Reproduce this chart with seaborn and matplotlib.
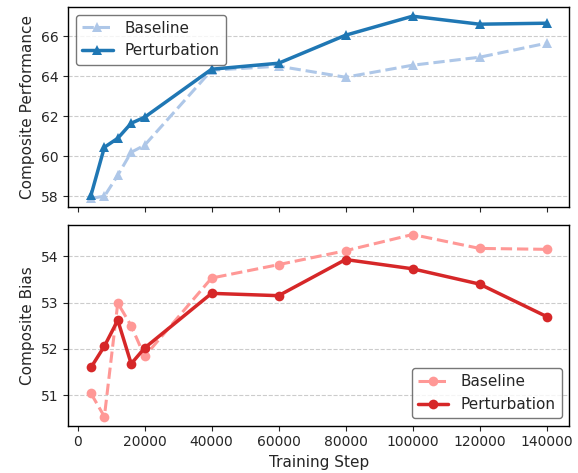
import pandas as pd
import matplotlib.pyplot as plt
import seaborn as sns

# data
steps = [4000, 8000, 12000, 16000, 20000, 40000, 60000, 80000, 100000, 120000, 140000]
perf_baseline = [57.9, 58.0, 59.05, 60.2, 60.55, 64.3, 64.5, 63.95, 64.55, 64.95, 65.65]
perf_perturb = [58.05, 60.45, 60.9, 61.65, 61.95, 64.35, 64.65, 66.05, 67.0, 66.6, 66.65]
bias_baseline = [51.04, 50.54, 52.99, 52.5, 51.84, 53.53, 53.82, 54.12, 54.47, 54.17, 54.15]
bias_perturb = [51.6, 52.06, 52.62, 51.68, 52.02, 53.2, 53.15, 53.93, 53.73, 53.4, 52.7]

perf = pd.DataFrame({"step": steps, "Baseline": perf_baseline, "Perturbation": perf_perturb})
bias = pd.DataFrame({"step": steps, "Baseline": bias_baseline, "Perturbation": bias_perturb})

sns.set_style("ticks")
plt.rcParams["font.family"] = ["DejaVu Sans"]

fig, (ax1, ax2) = plt.subplots(2, 1, figsize=(5.78, 4.73), dpi=100, sharex=True)

# top panel: performance
sns.lineplot(data=perf, x="step", y="Baseline", ax=ax1, color="#aec7e8", linestyle="--",
             marker="^", markersize=7, markeredgewidth=0, linewidth=2.2, label="Baseline")
sns.lineplot(data=perf, x="step", y="Perturbation", ax=ax1, color="#1f77b4", linestyle="-",
             marker="^", markersize=7, markeredgewidth=0, linewidth=2.5, label="Perturbation")
ax1.set_ylabel("Composite Performance", fontsize=11)
ax1.set_xlabel("")
ax1.set_yticks([58, 60, 62, 64, 66])
ax1.grid(axis="y", linestyle="--", color="#cccccc", linewidth=0.8)
ax1.legend(loc="upper left", fontsize=11, edgecolor="#555555")

# bottom panel: bias
sns.lineplot(data=bias, x="step", y="Baseline", ax=ax2, color="#ff9896", linestyle="--",
             marker="o", markersize=7, markeredgewidth=0, linewidth=2.2, label="Baseline")
sns.lineplot(data=bias, x="step", y="Perturbation", ax=ax2, color="#d62728", linestyle="-",
             marker="o", markersize=7, markeredgewidth=0, linewidth=2.5, label="Perturbation")
ax2.set_ylabel("Composite Bias", fontsize=11)
ax2.set_xlabel("Training Step", fontsize=11)
ax2.set_yticks([51, 52, 53, 54])
ax2.set_xticks([0, 20000, 40000, 60000, 80000, 100000, 120000, 140000])
ax2.grid(axis="y", linestyle="--", color="#cccccc", linewidth=0.8)
ax2.legend(loc="lower right", fontsize=11, edgecolor="#555555")

for ax in (ax1, ax2):
    for s in ax.spines.values():
        s.set_color("black")
        s.set_linewidth(1.0)

plt.subplots_adjust(left=0.118, right=0.985, top=0.985, bottom=0.1, hspace=0.09)
plt.savefig("out.png", dpi=100)
